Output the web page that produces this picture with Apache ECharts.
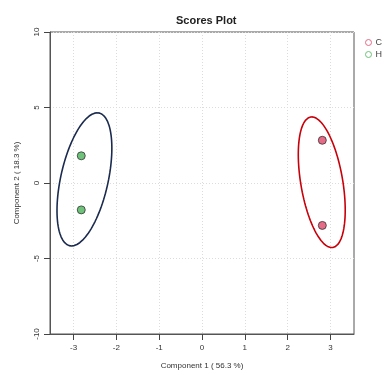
<!DOCTYPE html>
<html>
<head>
<meta charset="utf-8">
<script src="https://cdn.jsdelivr.net/npm/echarts@6/dist/echarts.min.js"></script>
<style>
html,body{margin:0;padding:0;background:#fff;}
#chart{width:382px;height:375px;}
</style>
</head>
<body>
<div id="chart"></div>
<script>
// ---- data ----
const groups = ['C', 'H'];
const cX = [2.81, 2.81];
const cY = [2.83, -2.81];
const hX = [-2.82, -2.82];
const hY = [1.80, -1.78];
const xTicks = [-3, -2, -1, 0, 1, 2, 3];
const yTicks = [-10, -5, 0, 5, 10];
// ellipse parameters (data units): centre x, centre y, x-components of two axes, y half-height
const ellipseC = [2.797, 0.05, -0.233, 0.496, 4.33];
const ellipseH = [-2.746, 0.24, 0.30, 0.566, 4.41];

function ellipsePts(p) {
  const pts = [];
  const n = 120;
  for (let i = 0; i <= n; i++) {
    const t = 2 * Math.PI * i / n;
    pts.push([p[0] + p[2] * Math.cos(t) + p[3] * Math.sin(t), p[1] + p[4] * Math.cos(t)]);
  }
  return pts;
}
const zip = (a, b) => a.map((v, i) => [v, b[i]]);

const FONT = 'Liberation Sans, Arial, sans-serif';
const chart = echarts.init(document.getElementById('chart'), null, {renderer: 'canvas'});
const gridStyle = {color: '#dcdcdc', type: [1, 2], width: 1};
const axisStyle = {color: '#555', width: 1};
const tickStyle = {color: '#444', width: 1};

chart.setOption({
  animation: false,
  backgroundColor: '#fff',
  title: {
    text: 'Scores Plot', left: 171, top: 10,
    textStyle: {fontFamily: FONT, fontSize: 11, fontWeight: 'bold', color: '#222'}
  },
  legend: {
    orient: 'vertical', left: 365, top: 38, itemGap: 3, padding: 0,
    itemWidth: 6, itemHeight: 6, icon: 'circle',
    textStyle: {fontFamily: FONT, fontSize: 9, color: '#444', padding: [0, 0, 0, -1]},
    data: [
      {name: groups[0], itemStyle: {color: 'transparent', borderColor: '#E56B86', borderWidth: 1}},
      {name: groups[1], itemStyle: {color: 'transparent', borderColor: '#6FC27A', borderWidth: 1}}
    ]
  },
  grid: {left: 50, right: 28, top: 32, bottom: 39, show: true, borderColor: '#555', borderWidth: 1},
  xAxis: {
    type: 'value', min: -3.55, max: 3.55,
    name: 'Component 1 ( 56.3 %)', nameLocation: 'middle', nameGap: 28,
    nameTextStyle: {fontFamily: FONT, fontSize: 8, color: '#333'},
    axisLine: {show: true, onZero: false, lineStyle: axisStyle},
    axisTick: {show: true, inside: false, length: 6, customValues: xTicks, lineStyle: tickStyle},
    axisLabel: {customValues: xTicks, fontFamily: FONT, fontSize: 8, color: '#333', margin: 10},
    splitLine: {show: true, customValues: xTicks, lineStyle: gridStyle}
  },
  yAxis: {
    type: 'value', min: -10, max: 10, interval: 5,
    name: 'Component 2 ( 18.3 %)', nameLocation: 'middle', nameGap: 29,
    nameTextStyle: {fontFamily: FONT, fontSize: 8, color: '#333'},
    axisLine: {show: true, onZero: false, lineStyle: axisStyle},
    axisTick: {show: true, inside: false, length: 6, lineStyle: tickStyle},
    axisLabel: {rotate: 90, fontFamily: FONT, fontSize: 8, color: '#333', margin: 9},
    splitLine: {show: true, lineStyle: gridStyle}
  },
  series: [
    {
      type: 'line', name: 'ellC', data: ellipsePts(ellipseC), showSymbol: false, symbol: 'none',
      lineStyle: {color: '#C8000A', width: 1.6}, z: 3, silent: true
    },
    {
      type: 'line', name: 'ellH', data: ellipsePts(ellipseH), showSymbol: false, symbol: 'none',
      lineStyle: {color: '#1B2B4F', width: 1.6}, z: 3, silent: true
    },
    {
      type: 'scatter', name: groups[0], data: zip(cX, cY), symbolSize: 8,
      itemStyle: {color: '#E56B86', borderColor: '#333', borderWidth: 0.8, opacity: 1}, z: 4
    },
    {
      type: 'scatter', name: groups[1], data: zip(hX, hY), symbolSize: 8,
      itemStyle: {color: '#6FC27A', borderColor: '#333', borderWidth: 0.8, opacity: 1}, z: 4
    }
  ]
});
</script>
</body>
</html>
